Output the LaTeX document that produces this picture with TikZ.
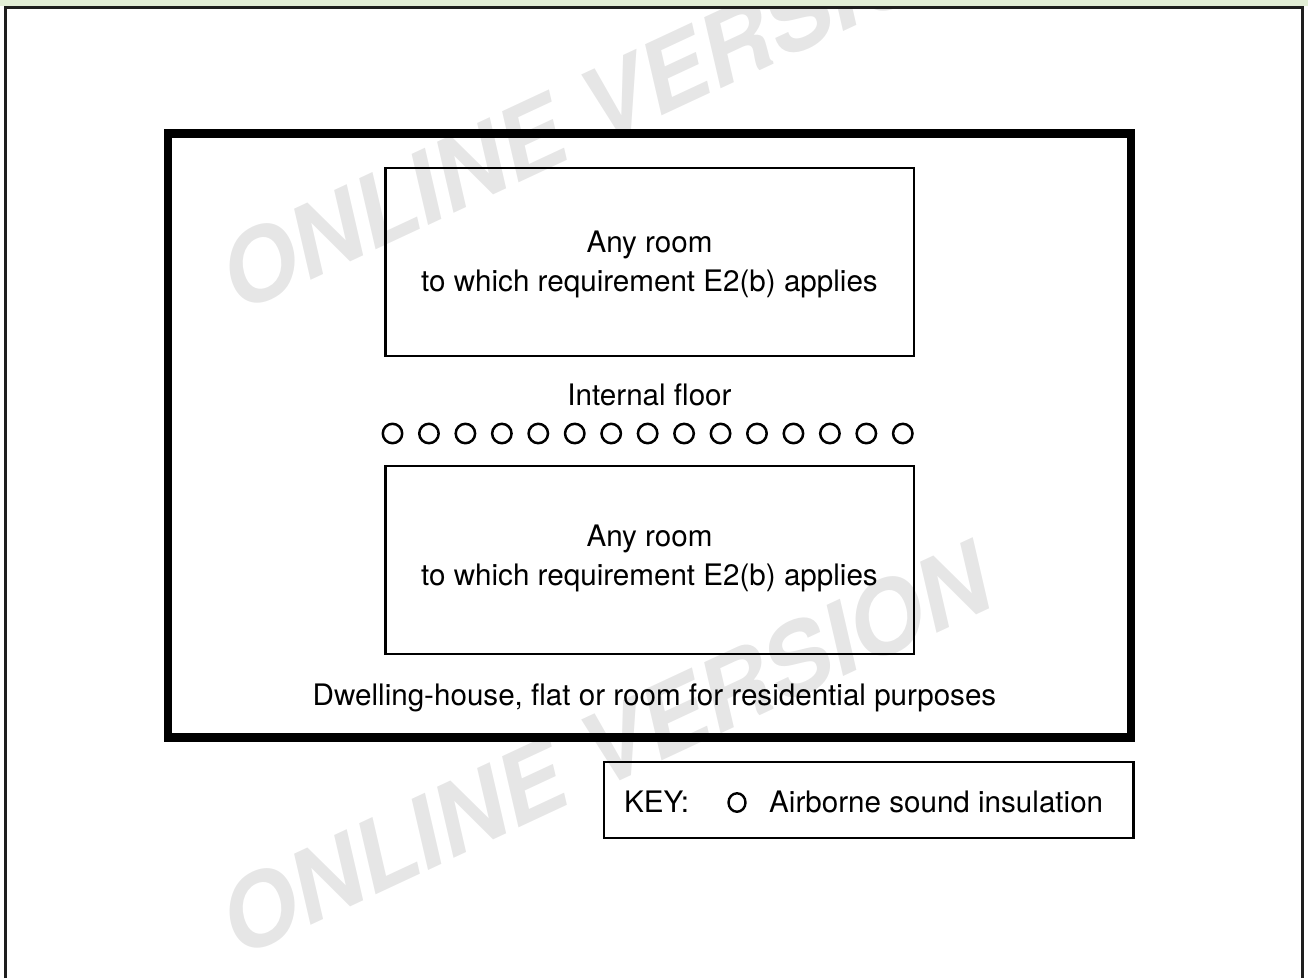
\documentclass[tikz,border=0pt]{standalone}
\usepackage{fontspec}
\setmainfont{TeX Gyre Heros}
\usetikzlibrary{shapes.geometric}
\definecolor{bandgreen}{HTML}{E2EED6}
\definecolor{wmgray}{HTML}{E6E6E6}
\definecolor{framegray}{HTML}{1E1E1E}
\tikzset{
  txt/.style={inner sep=0pt, font=\fontsize{29.6}{35}\selectfont},
  roombox/.style={draw, line width=2.2pt, inner sep=0pt, minimum width=528.5pt, minimum height=188pt},
  ins/.style={draw, circle, line width=2.5pt, inner sep=0pt, minimum size=19.4pt},
  wm/.style={text=wmgray, rotate=25, inner sep=0pt, font=\fontsize{98}{104}\selectfont\bfseries\itshape},
}
\begin{document}
\begin{tikzpicture}[x=1pt,y=-1pt]
\useasboundingbox (0,0) rectangle (1308,978);
% watermark
\node[wm] (wm1) at (604,104) {ONLINE VERSION};
\node[wm] (wm2) at (604,749) {ONLINE VERSION};
% band and outer frame
\fill[bandgreen] (0,0) rectangle (1308,5.5);
\coordinate (fbl) at (5.5,978);
\coordinate (ftl) at (5.5,7);
\coordinate (ftr) at (1302.5,7);
\coordinate (fbr) at (1302.5,978);
\draw[framegray, line width=3pt] (fbl) -- (ftl) -- (ftr) -- (fbr);
% dwelling box
\node[draw, line width=8.5pt, inner sep=0pt, minimum width=963pt, minimum height=604pt] (dwelling) at (649.5,435.5) {};
% rooms
\node[roombox] (upper) at (649.75,262) {};
\node[roombox] (lower) at (649.75,560) {};
\node[txt, anchor=base] (u1) at (649.5,252) {Any room};
\node[txt, anchor=base] (u2) at (649.5,291) {to which requirement E2(b) applies};
\node[txt, anchor=base] (l1) at (649.5,546) {Any room};
\node[txt, anchor=base] (l2) at (649.5,585) {to which requirement E2(b) applies};
\node[txt, anchor=base] (floor) at (649.5,405) {Internal floor};
\foreach \i in {1,...,15} {
  \node[ins] (c\i) at ({392.5+(\i-1)*36.45},433.5) {};
}
\node[txt, anchor=base] (dwl) at (654.5,705) {Dwelling-house, flat or room for residential purposes};
% key
\node[draw, line width=2.2pt, inner sep=0pt, minimum width=529.5pt, minimum height=76pt] (key) at (868.75,800) {};
\node[txt, anchor=base west] (keylbl) at (624,812) {KEY:};
\node[draw, ellipse, line width=2.4pt, inner sep=0pt, minimum width=17pt, minimum height=18.5pt] (keyc) at (737,802.5) {};
\node[txt, anchor=base west] (keytxt) at (769,812) {Airborne sound insulation};
\end{tikzpicture}
\end{document}
